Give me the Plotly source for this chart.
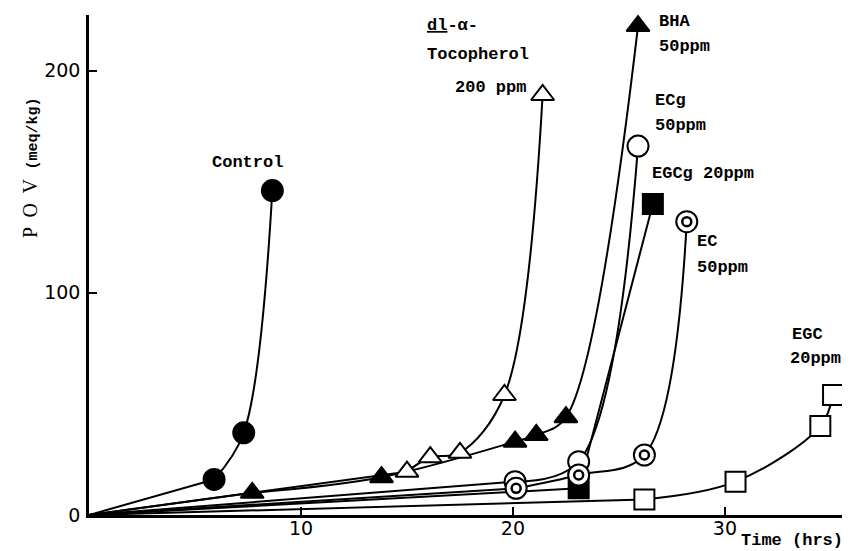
import plotly.graph_objects as go

# ---- data (hours, POV meq/kg) ----
control_x = [0, 5.9, 7.3, 8.65]
control_y = [0, 16, 37, 146]
bha_x = [0, 7.7, 13.8, 20.1, 21.1, 22.5, 25.9]
bha_y = [0, 10, 17, 33, 36, 44, 220]
toco_x = [0, 15.0, 16.1, 17.5, 19.6, 21.4]
toco_y = [0, 19.5, 26, 28, 54, 189]
ecg_x = [0, 20.1, 23.1, 25.9]
ecg_y = [0, 15, 24, 166]
egcg_x = [0, 23.1, 26.6]
egcg_y = [0, 12, 140]
ec_x = [0, 20.15, 23.1, 26.2, 28.2]
ec_y = [0, 12, 18, 27, 132]
egc_x = [0, 26.2, 30.5, 34.5, 35.1]
egc_y = [0, 7, 15, 40, 54]

x_ticks = [10, 20, 30]
y_ticks = [0, 100, 200]

# page has an 8px body margin; figure sized to fit the 850x551 window
OFF = 8
W, H = 850 - OFF, 551 - OFF
# plot area in page pixels
PL, PR, PT, PB = 89, 850, 15, 515
L, T = PL - OFF, PT - OFF
R, B = (850 - PR), (551 - PB)

series = [
    (control_x, control_y, "circle", "black", 21),
    (bha_x, bha_y, "triangle-up", "black", 20),
    (toco_x, toco_y, "triangle-up", "white", 20),
    (ecg_x, ecg_y, "circle", "white", 21),
    (egcg_x, egcg_y, "square", "black", 20),
    (ec_x, ec_y, "circle", "white", 21),
    (egc_x, egc_y, "square", "white", 20),
]

fig = go.Figure()
for xs, ys, sym, fill, size in series:
    fig.add_trace(go.Scatter(x=xs[:2], y=ys[:2], mode="lines",
                             line=dict(color="black", width=2),
                             hoverinfo="skip", showlegend=False, cliponaxis=False))
    fig.add_trace(go.Scatter(x=xs[1:], y=ys[1:], mode="lines",
                             line=dict(color="black", width=2, shape="spline", smoothing=1.0),
                             hoverinfo="skip", showlegend=False, cliponaxis=False))
for xs, ys, sym, fill, size in series:
    fig.add_trace(go.Scatter(x=xs[1:], y=ys[1:], mode="markers",
                             marker=dict(symbol=sym, size=size, color=fill,
                                         line=dict(color="black", width=2)),
                             showlegend=False, cliponaxis=False))
# inner ring of the double circle (EC)
fig.add_trace(go.Scatter(x=ec_x[1:], y=ec_y[1:], mode="markers",
                         marker=dict(symbol="circle", size=9, color="white",
                                     line=dict(color="black", width=2.5)),
                         showlegend=False, cliponaxis=False))

def px(xp):
    return (xp - PL) / (PR - PL)

def py(yp):
    return (PB - yp) / (PB - PT)

mono = dict(family="Liberation Mono, DejaVu Sans Mono, monospace", size=17, color="black")
notes = [
    ("<b>Control</b>", 210, 162, "left"),
    ("<b><u>dl</u>-α-</b>", 425, 25, "left"),
    ("<b>Tocopherol</b>", 425, 55, "left"),
    ("<b>200 ppm</b>", 528, 87, "right"),
    ("<b>BHA</b>", 657, 21, "left"),
    ("<b>50ppm</b>", 657, 46, "left"),
    ("<b>ECg</b>", 653, 100, "left"),
    ("<b>50ppm</b>", 653, 126, "left"),
    ("<b>EGCg 20ppm</b>", 650, 174, "left"),
    ("<b>EC</b>", 695, 242, "left"),
    ("<b>50ppm</b>", 695, 267, "left"),
    ("<b>EGC</b>", 790, 334, "left"),
    ("<b>20ppm</b>", 788, 358, "left"),
    ("<b>Time (hrs)</b>", 845, 540, "right"),
]
anns = []
for txt, xp, yp, anc in notes:
    anns.append(dict(text=txt, x=px(xp), y=py(yp), xref="paper", yref="paper",
                     xanchor=anc, yanchor="middle", showarrow=False, font=mono))
anns.append(dict(text="P  O  V  <b><span style='font-family:Liberation Mono;font-size:15px'>(meq/kg)</span></b>",
                 x=px(30), y=py(168), xref="paper", yref="paper", textangle=-90,
                 xanchor="center", yanchor="middle", showarrow=False,
                 font=dict(family="Liberation Serif, serif", size=20, color="black")))

tickfont = dict(family="DejaVu Sans, Liberation Sans, Arial", size=19, color="black")
fig.update_layout(
    width=W, height=H,
    margin=dict(l=L, r=R, t=T, b=B),
    paper_bgcolor="white", plot_bgcolor="white",
    annotations=anns,
    xaxis=dict(range=[0, 35.9], tickvals=x_ticks, ticks="inside", ticklen=8, tickwidth=2,
               tickcolor="black", showline=True, linecolor="black", linewidth=2.5,
               showgrid=False, zeroline=False, tickfont=tickfont,
               ticklabelstandoff=-6),
    yaxis=dict(range=[0, 225], tickvals=y_ticks, ticks="inside", ticklen=8, tickwidth=2,
               tickcolor="black", showline=True, linecolor="black", linewidth=2.5,
               showgrid=False, zeroline=False, tickfont=tickfont,
               ticklabelstandoff=2),
)
fig.update_xaxes(tickprefix="<b>", ticksuffix="</b>")
fig.update_yaxes(tickprefix="<b>", ticksuffix="</b>")

fig.write_html("out.html")
